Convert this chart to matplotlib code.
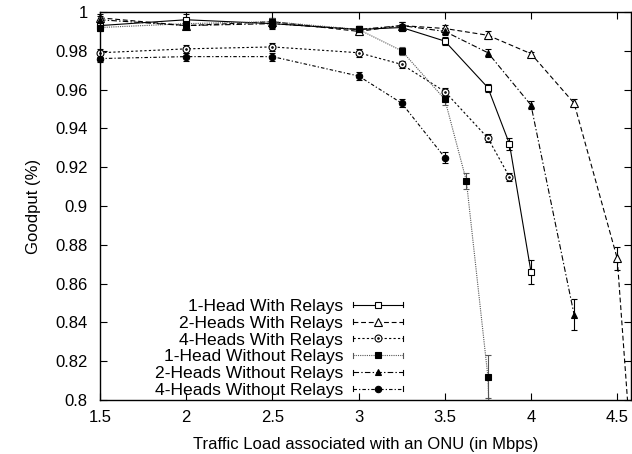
import matplotlib
matplotlib.use('Agg')
import matplotlib.pyplot as plt
from matplotlib.lines import Line2D
from matplotlib.legend_handler import HandlerLine2D
from matplotlib.path import Path
from matplotlib.markers import MarkerStyle

plt.rcParams['font.family'] = ['Liberation Sans', 'DejaVu Sans']
plt.rcParams['font.size'] = 12
plt.rcParams['lines.scale_dashes'] = False

# ---- data ----
labels = ["1-Head With Relays", "2-Heads With Relays", "4-Heads With Relays",
          "1-Head Without Relays", "2-Heads Without Relays", "4-Heads Without Relays"]

x_1h_wr = [1.5, 2, 2.5, 3, 3.25, 3.5, 3.75, 3.875, 4.0]
y_1h_wr = [0.993, 0.996, 0.994, 0.991, 0.992, 0.985, 0.961, 0.932, 0.866]
e_1h_wr = [0.002, 0.003, 0.003, 0.002, 0.002, 0.002, 0.002, 0.003, 0.006]

x_2h_wr = [1.5, 2, 2.5, 3, 3.25, 3.5, 3.75, 4.0, 4.25, 4.5, 4.625]
y_2h_wr = [0.997, 0.993, 0.995, 0.990, 0.993, 0.9915, 0.988, 0.9785, 0.953, 0.873, 0.72]
e_2h_wr = [0.002, 0.002, 0.002, 0.002, 0.002, 0.002, 0.002, 0.001, 0.002, 0.006, 0.0]

x_4h_wr = [1.5, 2, 2.5, 3, 3.25, 3.5, 3.75, 3.875]
y_4h_wr = [0.979, 0.981, 0.982, 0.979, 0.973, 0.959, 0.935, 0.915]
e_4h_wr = [0.002, 0.002, 0.002, 0.002, 0.002, 0.002, 0.002, 0.002]

x_1h_nr = [1.5, 2, 2.5, 3, 3.25, 3.5, 3.625, 3.75, 3.875]
y_1h_nr = [0.992, 0.994, 0.995, 0.991, 0.980, 0.955, 0.913, 0.812, 0.5]
e_1h_nr = [0.002, 0.002, 0.002, 0.002, 0.002, 0.003, 0.004, 0.011, 0.0]

x_2h_nr = [1.5, 2, 2.5, 3, 3.25, 3.5, 3.75, 4.0, 4.25]
y_2h_nr = [0.996, 0.993, 0.994, 0.991, 0.993, 0.990, 0.979, 0.952, 0.844]
e_2h_nr = [0.002, 0.002, 0.002, 0.002, 0.002, 0.002, 0.002, 0.002, 0.008]

x_4h_nr = [1.5, 2, 2.5, 3, 3.25, 3.5]
y_4h_nr = [0.976, 0.977, 0.977, 0.967, 0.953, 0.925]
e_4h_nr = [0.002, 0.002, 0.002, 0.002, 0.002, 0.003]

xticks = [1.5, 2, 2.5, 3, 3.5, 4, 4.5]
xticklabels = ["1.5", "2", "2.5", "3", "3.5", "4", "4.5"]
yticks = [0.8, 0.82, 0.84, 0.86, 0.88, 0.9, 0.92, 0.94, 0.96, 0.98, 1.0]
yticklabels = ["0.8", "0.82", "0.84", "0.86", "0.88", "0.9", "0.92", "0.94", "0.96", "0.98", "1"]

YMIN, YMAX = 0.8, 1.0

# circle-with-dot marker
cdot = MarkerStyle(Path.make_compound_path(Path.unit_circle(), Path.circle((0, 0), 0.22)))

styles = [
    dict(ls='-', color='black', marker='s', mfc='white', ms=5.0),
    dict(ls=(0, (3.5, 2.0)), color='black', marker='^', mfc='white', ms=5.5),
    dict(ls=(0, (1.6, 1.6)), color='black', marker=cdot, mfc='white', ms=5.0),
    dict(ls=(0, (0.8, 0.8)), color='#555555', marker='s', mfc='black', ms=4.6),
    dict(ls=(0, (4.0, 1.6, 1.0, 1.6)), color='black', marker='^', mfc='black', ms=4.6),
    dict(ls=(0, (2.5, 1.5, 0.9, 1.5)), color='black', marker='o', mfc='black', ms=4.6),
]
series = [(x_1h_wr, y_1h_wr, e_1h_wr), (x_2h_wr, y_2h_wr, e_2h_wr), (x_4h_wr, y_4h_wr, e_4h_wr),
          (x_1h_nr, y_1h_nr, e_1h_nr), (x_2h_nr, y_2h_nr, e_2h_nr), (x_4h_nr, y_4h_nr, e_4h_nr)]

fig = plt.figure(figsize=(6.32, 4.54), dpi=100)
ax = fig.add_axes([100/632, 1-400/454, 531/632, 388/454])

handles = []
for (x, y, e), st, lab in zip(series, styles, labels):
    # points inside the visible range get markers / error bars (not clipped at the frame)
    vis = [(xi, yi, ei) for xi, yi, ei in zip(x, y, e) if YMIN <= yi <= YMAX]
    xv = [v[0] for v in vis]
    yv = [v[1] for v in vis]
    ev = [v[2] for v in vis]
    eb = ax.errorbar(xv, yv, yerr=ev, fmt='none', ecolor=st['color'], elinewidth=0.8,
                     capsize=2.5, capthick=0.8, zorder=2)
    for art in eb.lines[1] + eb.lines[2]:
        art.set_clip_on(False)
    ax.plot(x, y, linestyle=st['ls'], color=st['color'], lw=0.8, zorder=2)
    ax.plot(xv, yv, linestyle='none', marker=st['marker'], mfc=st['mfc'], mec='black',
            mew=0.8, ms=st['ms'], zorder=3, clip_on=False)
    handles.append(Line2D([], [], linestyle=st['ls'], color=st['color'], lw=0.8,
                          marker=st['marker'], mfc=st['mfc'], mec='black', mew=0.8,
                          ms=st['ms'], label=lab))


class CapHandler(HandlerLine2D):
    def create_artists(self, legend, orig_handle, xdescent, ydescent, width, height,
                       fontsize, trans):
        arts = super().create_artists(legend, orig_handle, xdescent, ydescent, width,
                                      height, fontsize, trans)
        yc = (height - ydescent) / 2.0
        c = 1.8
        for xx in (-xdescent, -xdescent + width):
            arts.append(Line2D([xx, xx], [yc - c, yc + c], color=orig_handle.get_color(),
                               lw=0.8, transform=trans))
        return arts


ax.set_xlim(1.5, 4.58)
ax.set_ylim(YMIN, YMAX)
ax.set_xticks(xticks)
ax.set_xticklabels(xticklabels)
ax.set_yticks(yticks)
ax.set_yticklabels(yticklabels)
ax.tick_params(direction='in', length=5, width=0.8, top=True, right=True, labelsize=12)
ax.tick_params(axis='x', pad=7)
ax.tick_params(axis='y', pad=9)
for s in ax.spines.values():
    s.set_linewidth(1.0)
    s.set_zorder(4)

ax.set_xlabel("Traffic Load associated with an ONU (in Mbps)", fontsize=12, labelpad=9)
ax.set_ylabel("Goodput (%)", fontsize=12, labelpad=10)

LFS = 12.6
leg = ax.legend(handles=handles, loc='lower right',
                bbox_to_anchor=((403-100)/531, 0.005), frameon=False, markerfirst=False,
                handlelength=3.0*12/LFS, handletextpad=0.6*12/LFS, labelspacing=0.09,
                borderpad=0, borderaxespad=0, fontsize=LFS,
                handler_map={Line2D: CapHandler(numpoints=1)})

fig.savefig('out.png', dpi=100)
